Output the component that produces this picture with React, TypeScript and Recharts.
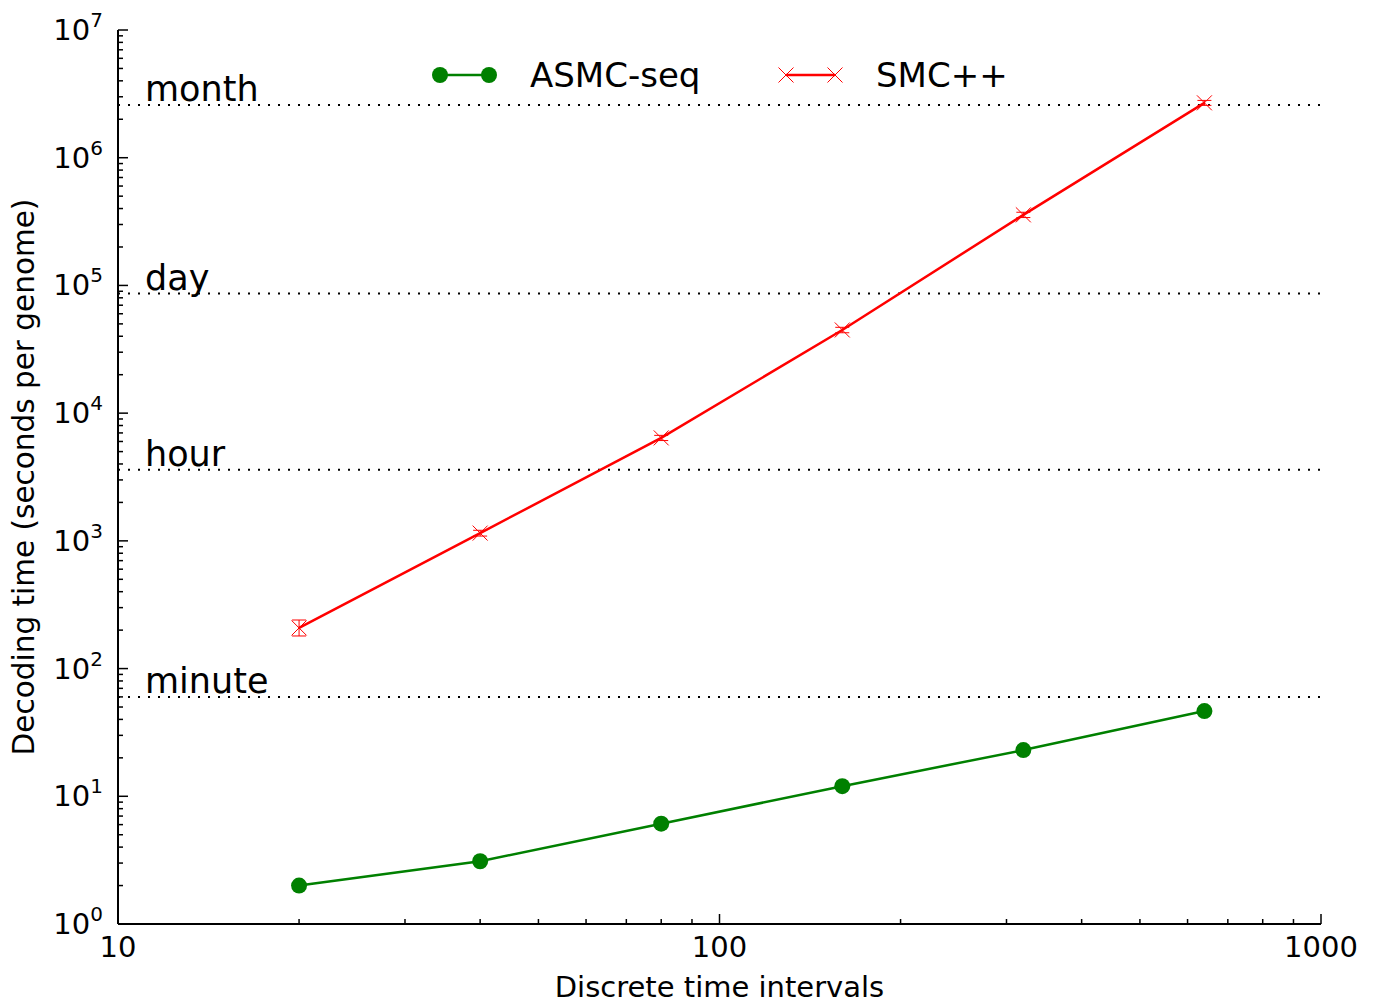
import {
  ErrorBar,
  Legend,
  Line,
  LineChart,
  ReferenceLine,
  XAxis,
  YAxis,
} from "recharts";

// Discrete time intervals (x) against decoding time in seconds (y)
const intervals = [20, 40, 80, 160, 320, 640];
const asmcSeconds = [2.0, 3.1, 6.1, 12.0, 23, 46.5];
const smcSeconds = [208, 1150, 6400, 44800, 357000, 2690000];
const smcErrLow = [28, 60, 300, 2200, 17000, 120000];
const smcErrHigh = [32, 60, 300, 2200, 17000, 120000];

// Reference durations drawn as dotted lines
const spanNames = ["minute", "hour", "day", "month"];
const spanSeconds = [60, 3600, 86400, 2592000];

const xMajor = [10, 100, 1000];
const yMajor = [1, 10, 100, 1000, 1e4, 1e5, 1e6, 1e7];
const minorSteps = [2, 3, 4, 5, 6, 7, 8, 9];

const withMinor = (majors: number[]) => [
  ...majors,
  ...majors.slice(0, -1).flatMap((m) => minorSteps.map((s) => m * s)),
];
const xTicks = withMinor(xMajor);
const yTicks = withMinor(yMajor);

const GREEN = "#008000";
const RED = "#ff0000";
const FONT = '"DejaVu Sans", sans-serif';

const data = intervals.map((x, i) => ({
  x,
  asmc: asmcSeconds[i],
  smc: smcSeconds[i],
  smcErr: [smcErrLow[i], smcErrHigh[i]],
}));

const isMajor = (v: number, majors: number[]) =>
  majors.some((m) => Math.abs(v - m) < m * 1e-9);

const XTick = ({ x, y, payload }: any) => {
  const major = isMajor(payload.value, xMajor);
  return (
    <g>
      <line x1={x} x2={x} y1={y} y2={y - (major ? 10 : 5)} stroke="#000" strokeWidth={1.5} />
      {major && (
        <text x={x} y={y + 33} textAnchor="middle" fontSize={29} fill="#000" fontFamily={FONT}>
          {payload.value}
        </text>
      )}
    </g>
  );
};

const YTick = ({ x, y, payload }: any) => {
  const major = isMajor(payload.value, yMajor);
  const exp = Math.round(Math.log10(payload.value));
  return (
    <g>
      <line x1={x} x2={x + (major ? 10 : 5)} y1={y} y2={y} stroke="#000" strokeWidth={1.5} />
      {major && (
        <text x={x - 15} y={y + 10} textAnchor="end" fontSize={29} fill="#000" fontFamily={FONT}>
          <tspan>10</tspan>
          <tspan dy={-13} fontSize={20}>
            {exp}
          </tspan>
        </text>
      )}
    </g>
  );
};

const CrossDot = ({ cx, cy }: any) => (
  <path
    d={`M${cx - 7.5},${cy - 7.5}L${cx + 7.5},${cy + 7.5}M${cx - 7.5},${cy + 7.5}L${cx + 7.5},${cy - 7.5}`}
    stroke={RED}
    strokeWidth={1}
    fill="none"
  />
);

const spanLabel = (text: string) => (props: any) => {
  const vb = props.viewBox;
  return (
    <text x={vb.x + 27} y={vb.y - 4} fontSize={35} fill="#000" fontFamily={FONT}>
      {text}
    </text>
  );
};

const SeriesLegend = ({ payload }: any) => {
  const entries = payload ?? [];
  return (
    <svg width={640} height={60} style={{ overflow: "visible" }}>
      {entries.map((e: any, i: number) => {
        const ox = i * 346;
        const color = e.color;
        const left = ox + 20;
        const right = ox + 69;
        return (
          <g key={e.value}>
            <line x1={left} x2={right} y1={25} y2={25} stroke={color} strokeWidth={2.5} />
            {e.dataKey === "asmc" ? (
              <>
                <circle cx={left} cy={25} r={8} fill={color} />
                <circle cx={right} cy={25} r={8} fill={color} />
              </>
            ) : (
              <>
                <CrossDot cx={left} cy={25} />
                <CrossDot cx={right} cy={25} />
              </>
            )}
            <text x={ox + 110} y={37} fontSize={34} fill="#000" fontFamily={FONT}>
              {e.value}
            </text>
          </g>
        );
      })}
    </svg>
  );
};

export default function App() {
  return (
    <div
      style={{
        position: "absolute",
        left: 0,
        top: 0,
        width: 1376,
        height: 1004,
        background: "#fff",
        fontFamily: FONT,
      }}
    >
      <LineChart
        width={1376}
        height={1004}
        data={data}
        margin={{ top: 30, right: 55, bottom: 40, left: 58 }}
      >
        <XAxis
          dataKey="x"
          type="number"
          scale="log"
          domain={[10, 1000]}
          allowDataOverflow
          ticks={xTicks}
          interval={0}
          height={40}
          tickLine={false}
          tickSize={0}
          tickMargin={0}
          tick={<XTick />}
          axisLine={{ stroke: "#000", strokeWidth: 2 }}
          label={(props: any) => {
            const vb = props.viewBox;
            return (
              <text
                x={vb.x + vb.width / 2}
                y={vb.y + 73}
                textAnchor="middle"
                fontSize={29}
                fill="#000"
                fontFamily={FONT}
              >
                Discrete time intervals
              </text>
            );
          }}
        />
        <YAxis
          type="number"
          scale="log"
          domain={[1, 1e7]}
          allowDataOverflow
          ticks={yTicks}
          interval={0}
          width={60}
          tickLine={false}
          tickSize={0}
          tickMargin={0}
          tick={<YTick />}
          axisLine={{ stroke: "#000", strokeWidth: 2 }}
          label={(props: any) => {
            const vb = props.viewBox;
            const cy = vb.y + vb.height / 2;
            return (
              <text
                x={34}
                y={cy}
                transform={`rotate(-90, 34, ${cy})`}
                textAnchor="middle"
                fontSize={29.5}
                fill="#000"
                fontFamily={FONT}
              >
                Decoding time (seconds per genome)
              </text>
            );
          }}
        />
        {spanSeconds.map((s, i) => (
          <ReferenceLine
            key={spanNames[i]}
            y={s}
            stroke="#000"
            strokeWidth={2}
            strokeDasharray="2 8"
            label={spanLabel(spanNames[i])}
          />
        ))}
        <Legend
          layout="horizontal"
          verticalAlign="middle"
          align="center"
          wrapperStyle={{ position: "absolute", left: 420, top: 50, width: 640 }}
          content={<SeriesLegend />}
        />
        <Line
          dataKey="asmc"
          name="ASMC-seq"
          stroke={GREEN}
          strokeWidth={2.5}
          dot={{ r: 8, fill: GREEN, stroke: GREEN, strokeWidth: 0 }}
          activeDot={false}
          isAnimationActive={false}
        />
        <Line
          dataKey="smc"
          name="SMC++"
          stroke={RED}
          strokeWidth={2.5}
          dot={(p: any) => <CrossDot key={p.index} cx={p.cx} cy={p.cy} />}
          activeDot={false}
          isAnimationActive={false}
        >
          <ErrorBar
            dataKey="smcErr"
            direction="y"
            width={7}
            stroke={RED}
            strokeWidth={1}
            isAnimationActive={false}
          />
        </Line>
      </LineChart>
    </div>
  );
}
